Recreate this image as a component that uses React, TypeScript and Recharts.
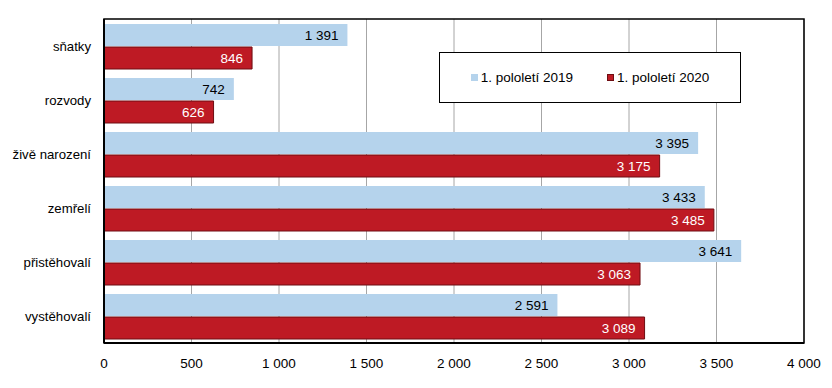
import { BarChart, Bar, XAxis, YAxis, CartesianGrid, LabelList, ReferenceArea } from 'recharts';

const CATEGORIES = ['sňatky', 'rozvody', 'živě narození', 'zemřelí', 'přistěhovalí', 'vystěhovalí'];
const H1_2019 = [1391, 742, 3395, 3433, 3641, 2591];
const H1_2020 = [846, 626, 3175, 3485, 3063, 3089];
const X_TICKS = [0, 500, 1000, 1500, 2000, 2500, 3000, 3500, 4000];

const BLUE = '#b5d3ec';
const RED = '#be1a24';
const RED_EDGE = '#6e0d12';
const GRID = '#a6a6a6';
const FONT = '"Liberation Sans", Arial, sans-serif';

const data = CATEGORIES.map((name, i) => ({ name, y2019: H1_2019[i], y2020: H1_2020[i] }));

const fmt = (v: number) => String(v).replace(/\B(?=(\d{3})+(?!\d))/g, ' ');

function LegendBox() {
  const item = (color: string, text: string, border?: string) => (
    <span style={{ display: 'inline-flex', alignItems: 'center', gap: 3 }}>
      <span style={{ width: 7, height: 7, background: color, border: border ? `1px solid ${border}` : 'none', boxSizing: 'border-box', display: 'inline-block' }} />
      {text}
    </span>
  );
  return (
    <div style={{
      position: 'absolute', left: 439, top: 52, width: 302, height: 51, border: '1.5px solid #000',
      background: '#fff', boxSizing: 'border-box', display: 'flex', justifyContent: 'center',
      alignItems: 'center', gap: 34, fontFamily: FONT, fontSize: 13.5, color: '#000',
    }}>
      {item(BLUE, '1. pololetí 2019')}
      {item(RED, '1. pololetí 2020', RED_EDGE)}
    </div>
  );
}

export default function App() {
  return (
    <div style={{ margin: -8, background: '#fff', width: 832, height: 388, position: 'relative' }}>
      <BarChart width={832} height={388} data={data} layout="vertical"
        margin={{ top: 19, right: 28, left: 0, bottom: 15 }} barSize={22} barGap={1}>
        <CartesianGrid horizontal={false} stroke={GRID} />
        <XAxis type="number" domain={[0, 4000]} ticks={X_TICKS} tickFormatter={fmt} height={30}
          tickLine={false} tickMargin={9} axisLine={{ stroke: '#000', strokeWidth: 2 }}
          tick={{ fontSize: 13.5, fontFamily: FONT, fill: '#000' }} interval={0} />
        <YAxis type="category" dataKey="name" width={104} tickLine={false} tickMargin={7}
          axisLine={{ stroke: '#000', strokeWidth: 2 }}
          tick={{ fontSize: 13.2, fontFamily: FONT, fill: '#000' }} />
        <ReferenceArea x1={0} x2={4000} fill="none" stroke="#000" strokeWidth={1.5} />
        <Bar dataKey="y2019" fill={BLUE} isAnimationActive={false}>
          <LabelList dataKey="y2019" position="insideRight" offset={9} formatter={(v: number) => fmt(v)}
            style={{ fontSize: 13.5, fontFamily: FONT, fill: '#000' }} />
        </Bar>
        <Bar dataKey="y2020" fill={RED} stroke={RED_EDGE} strokeWidth={1} isAnimationActive={false}>
          <LabelList dataKey="y2020" position="insideRight" offset={9} formatter={(v: number) => fmt(v)}
            style={{ fontSize: 13.5, fontFamily: FONT, fill: '#fff', stroke: 'none' }} />
        </Bar>
      </BarChart>
      <LegendBox />
    </div>
  );
}
